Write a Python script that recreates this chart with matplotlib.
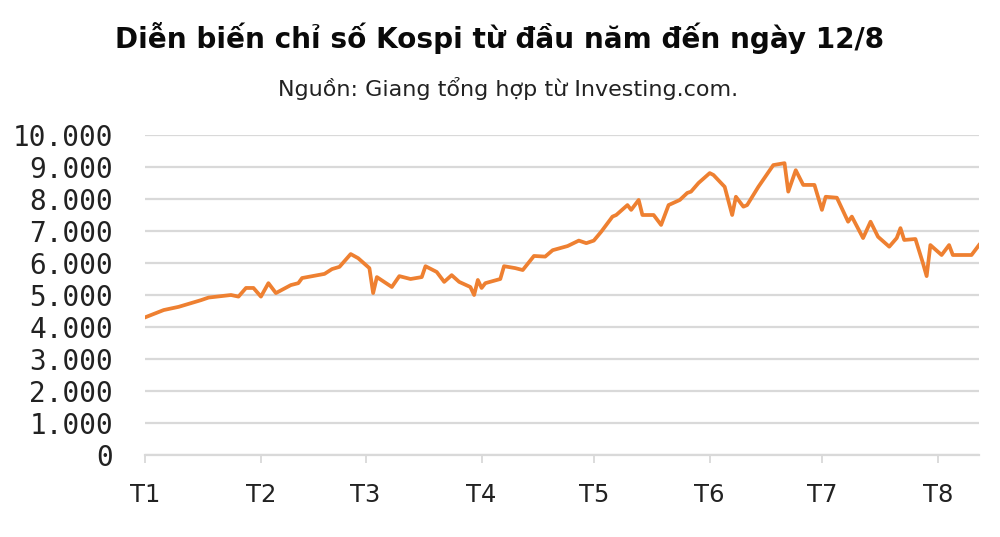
import matplotlib
matplotlib.use("Agg")
import matplotlib.pyplot as plt
import pandas as pd

# Day offsets from 1 Jan and Kospi values
day_offsets = [0, 5, 9, 15, 17, 23, 25, 27, 29, 31, 33, 35, 39, 41, 42, 48, 50, 52, 55, 57,
               60, 61, 62, 66, 68, 71, 74, 75, 78, 80, 82, 84, 87, 88, 89, 90, 91, 95, 96, 99,
               101, 104, 107, 109, 113, 116, 118, 120, 122, 125, 126, 129, 130, 132, 133, 136, 138, 140, 143, 145,
               146, 148, 151, 152, 155, 157, 158, 160, 161, 163, 164, 168, 171, 172, 174, 176, 179, 181, 182, 185,
               188, 189, 192, 194, 196, 199, 201, 202, 203, 206, 208, 209, 210, 213, 215, 216, 221, 223]
kospi = [4300, 4530, 4630, 4840, 4920, 5000, 4950, 5220, 5220, 4950, 5370, 5060, 5310, 5370, 5530, 5660, 5810, 5880, 6280, 6150,
         5840, 5060, 5560, 5250, 5590, 5500, 5560, 5900, 5720, 5410, 5620, 5410, 5250, 5000, 5470, 5220, 5370, 5500, 5900, 5840,
         5780, 6220, 6200, 6400, 6530, 6700, 6620, 6700, 6980, 7450, 7500, 7810, 7660, 7970, 7500, 7500, 7190, 7810, 7970, 8190,
         8230, 8500, 8810, 8750, 8380, 7500, 8070, 7760, 7810, 8190, 8380, 9060, 9120, 8230, 8900, 8440, 8440, 7660, 8070, 8040,
         7290, 7450, 6780, 7290, 6820, 6510, 6780, 7090, 6720, 6750, 6000, 5590, 6560, 6250, 6560, 6250, 6250, 6560]

month_labels = ["T1", "T2", "T3", "T4", "T5", "T6", "T7", "T8"]
y_ticks = [0, 1000, 2000, 3000, 4000, 5000, 6000, 7000, 8000, 9000, 10000]
y_labels = ["0", "1.000", "2.000", "3.000", "4.000", "5.000",
            "6.000", "7.000", "8.000", "9.000", "10.000"]
title = "Diễn biến chỉ số Kospi từ đầu năm đến ngày 12/8"
subtitle = "Nguồn: Giang tổng hợp từ Investing.com."

start = pd.Timestamp("2025-01-01")
dates = start + pd.to_timedelta(day_offsets, unit="D")
month_starts = pd.date_range(start, periods=len(month_labels), freq="MS")

fig = plt.figure(figsize=(10, 5.37), dpi=100)
ax = fig.add_axes([0.145, 0.1527, 0.834, 0.5959])

grid_color = "#d9d9d9"
ax.plot(dates, kospi, color="#ee8031", lw=2.7, solid_joinstyle="round", zorder=3)

ax.set_ylim(0, 10000)
ax.set_xlim(start, start + pd.Timedelta(days=223))
ax.set_yticks(y_ticks)
ax.set_yticklabels(y_labels, fontfamily="DejaVu Sans Mono", fontsize=20, color="#222222")
ax.grid(axis="y", color=grid_color, lw=1.6, zorder=0)
ax.set_axisbelow(True)

ax.set_xticks(month_starts)
ax.set_xticklabels(month_labels, fontfamily="DejaVu Sans", fontsize=17.5, color="#222222")
for s in ["top", "right", "left"]:
    ax.spines[s].set_visible(False)
ax.spines["bottom"].set_color(grid_color)
ax.spines["bottom"].set_linewidth(1.6)

ax.tick_params(axis="y", length=0, pad=23)
ax.tick_params(axis="x", length=6, width=1.3, color=grid_color, pad=14)

fig.text(0.5, 0.929, title, ha="center", va="center", fontsize=20.1,
         fontweight="bold", color="#0a0a0a")
fig.text(0.508, 0.836, subtitle, ha="center", va="center", fontsize=16,
         color="#222222")

fig.savefig("out.png", dpi=100)
